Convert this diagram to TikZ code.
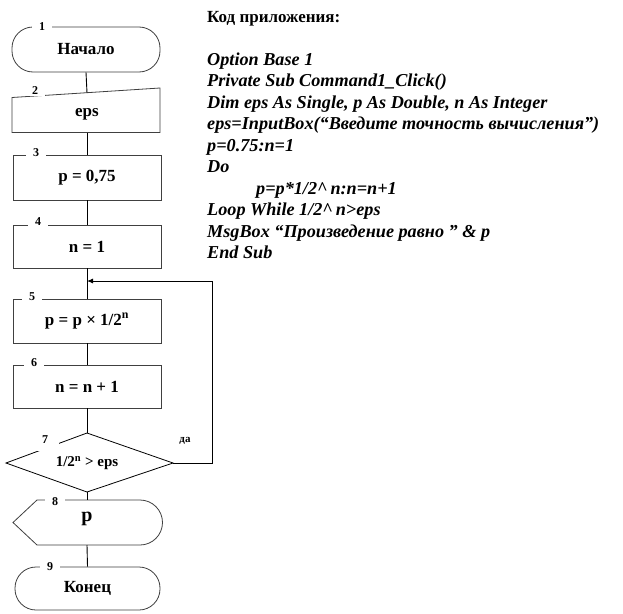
\documentclass[tikz,border=0pt]{standalone}
\usepackage{fontspec}
\setmainfont{Liberation Serif}
\usetikzlibrary{arrows.meta}
\begin{document}
\begin{tikzpicture}[x=1pt,y=-1pt,
  boxline/.style={draw=black!75,line width=0.8pt},
  conn/.style={draw=black,line width=0.9pt},
  blocktext/.style={font=\fontsize{17}{20}\selectfont\bfseries,inner sep=0pt},
  numlabel/.style={font=\fontsize{12}{13}\selectfont\bfseries,fill=white,inner xsep=7pt,inner ysep=1pt},
  codeline/.style={anchor=base west,inner sep=0pt,font=\fontsize{18.2}{21}\selectfont\bfseries\itshape}]
\fill[white] (0,0) rectangle (623,613);
\useasboundingbox (0,0) rectangle (623,613);

% block 1
\node[boxline,rectangle,rounded corners=21pt,minimum width=148pt,minimum height=45pt,inner sep=0pt] (b1) at (86,49.5) {};
\node[blocktext] (t1) at (b1.center) {Начало};
% block 2 manual input
\coordinate (b2tl) at (12,97.5);
\coordinate (b2tr) at (160,88);
\coordinate (b2br) at (160,132.5);
\coordinate (b2bl) at (12,132.5);
\path[boxline] (b2tl) -- (b2tr) -- (b2br) -- (b2bl) -- cycle;
\coordinate (b2top) at (87,92.8);
\coordinate (b2bot) at (87,132.5);
\node[blocktext] (t2) at (87,114) {eps};
% block 3-6
\node[boxline,rectangle,minimum width=148pt,minimum height=45pt,inner sep=0pt] (b3) at (87,177.5) {};
\node[blocktext] (t3) at (b3.center) {p = 0,75};
\node[boxline,rectangle,minimum width=148pt,minimum height=43pt,inner sep=0pt] (b4) at (87,246.5) {};
\node[blocktext] (t4) at (b4.center) {n = 1};
\node[boxline,rectangle,minimum width=148pt,minimum height=44pt,inner sep=0pt] (b5) at (87,321) {};
\node[blocktext] (t5) at (b5.center) {p = p × 1/2\textsuperscript{n}};
\node[boxline,rectangle,minimum width=148pt,minimum height=43pt,inner sep=0pt] (b6) at (87,386.5) {};
\node[blocktext] (t6) at (b6.center) {n = n + 1};
% block 7 decision
\coordinate (b7t) at (87,433);
\coordinate (b7l) at (6,463);
\coordinate (b7r) at (173,463);
\coordinate (b7b) at (87,492);
\draw[black,line width=0.8pt] (b7t) -- (b7r) -- (b7b) -- (b7l) -- cycle;
\node[font=\fontsize{15}{18}\selectfont\bfseries,inner sep=0pt] (t7) at (87,463) {1/2\textsuperscript{n} > eps};
% block 8 display
\coordinate (b8tl) at (37,500);
\coordinate (b8tr) at (140,500);
\coordinate (b8br) at (140,545);
\coordinate (b8bl) at (37,545);
\coordinate (b8l) at (13,522.5);
\path[boxline] (b8tl) -- (b8tr) arc[start angle=-90,end angle=90,radius=22.5] -- (b8bl) -- (b8l) -- cycle;
\coordinate (b8top) at (87,500);
\coordinate (b8bot) at (87,545);
\node[font=\fontsize{20}{22}\selectfont\bfseries,inner sep=0pt] (t8) at (87,519) {p};
% block 9
\node[boxline,rectangle,rounded corners=21pt,minimum width=145pt,minimum height=43pt,inner sep=0pt] (b9) at (87.5,588.5) {};
\node[blocktext] (t9) at (b9.center) {Конец};

% connectors
\draw[conn] (b1.south) -- (b2top);
\draw[conn] (b2bot) -- (b3.north);
\draw[conn] (b3.south) -- (b4.north);
\draw[conn] (b4.south) -- (b5.north);
\draw[conn] (b5.south) -- (b6.north);
\draw[conn] (b6.south) -- (b7t);
\draw[conn] (b7b) -- (b8top);
\draw[conn] (b8bot) -- (b9.north);
\coordinate (loopr) at (212,463);
\coordinate (loopt) at (212,281);
\coordinate (merge) at (87,281);
\draw[conn,-{Latex[length=6pt,width=5pt]}] (b7r) -- (loopr) -- (loopt) -- (merge);
\node[font=\fontsize{11}{12}\selectfont\bfseries,inner sep=0pt] (yes) at (185,441) {да};

% number labels
\node[numlabel] (n1) at (42,27) {1};
\node[numlabel] (n2) at (35,91) {2};
\node[numlabel] (n3) at (36,153) {3};
\node[numlabel] (n4) at (38,222) {4};
\node[numlabel] (n5) at (32,297) {5};
\node[numlabel] (n6) at (34,363) {6};
\node[numlabel,inner xsep=11pt,inner ysep=7pt] (n7) at (45,440) {7};
\node[numlabel] (n8) at (55,502) {8};
\node[numlabel] (n9) at (50,567) {9};

% code
\node[anchor=base west,inner sep=0pt,font=\fontsize{17}{20}\selectfont\bfseries] (c0) at (207,22) {Код приложения:};
\node[codeline] (c1) at (207,65.5) {Option Base 1};
\node[codeline] (c2) at (207,86.5) {Private Sub Command1\_Click()};
\node[codeline] (c3) at (207,108) {Dim eps As Single, p As Double, n As Integer};
\node[codeline] (c4) at (207,129.5) {eps=InputBox(“Введите точность вычисления”)};
\node[codeline] (c5) at (207,151) {p=0.75:n=1};
\node[codeline] (c6) at (207,172.5) {Do};
\node[codeline] (c7) at (256,194) {p=p*1/2\textasciicircum\,n:n=n+1};
\node[codeline] (c8) at (207,215.5) {Loop While 1/2\textasciicircum\,n>eps};
\node[codeline] (c9) at (207,237) {MsgBox “Произведение равно ” \& p};
\node[codeline] (c10) at (207,258) {End Sub};
\end{tikzpicture}
\end{document}
